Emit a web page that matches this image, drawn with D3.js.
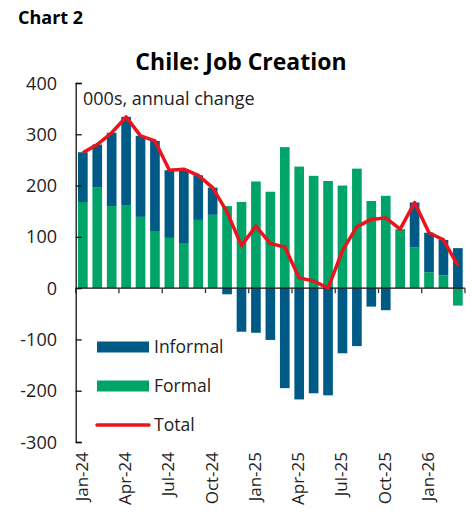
<!DOCTYPE html>
<html>
<head>
<meta charset="utf-8">
<script src="https://cdn.jsdelivr.net/npm/d3@7"></script>
<style>
  body { margin: 0; background: #fff; }
  svg { font-family: "Open Sans", "Noto Sans", sans-serif; }
</style>
</head>
<body>
<svg width="473" height="521"></svg>
<script>
// months, Jan-24 .. Mar-26
let months = ["Jan-24","Feb-24","Mar-24","Apr-24","May-24","Jun-24","Jul-24","Aug-24","Sep-24","Oct-24","Nov-24","Dec-24",
              "Jan-25","Feb-25","Mar-25","Apr-25","May-25","Jun-25","Jul-25","Aug-25","Sep-25","Oct-25","Nov-25","Dec-25",
              "Jan-26","Feb-26","Mar-26"]
let formal   = [168,197,160,162,139,110,98,88,133,143,160,168,208,188,275,237,219,209,200,233,170,180,115,80,31,25,-34]
let informal = [97,83,143,172,158,177,132,144,87,53,-12,-85,-87,-101,-195,-217,-205,-209,-127,-113,-36,-43,0,87,77,69,78]
let total    = [264,280,303,334,297,287,230,232,220,196,148,83,121,87,80,20,14,0,73,120,134,137,115,167,108,94,44]
let yTicks = [400,300,200,100,0,-100,-200,-300]
let xLabels = ["Jan-24","Apr-24","Jul-24","Oct-24","Jan-25","Apr-25","Jul-25","Oct-25","Jan-26"]

let colInformal = "#005a86"
let colFormal = "#00a468"
let colTotal = "#e8141e"

let svg = d3.select("svg")

let x = d3.scaleBand().domain(months).range([75.7, 465]).paddingInner(0.33).paddingOuter(0.16)
let y = d3.scaleLinear().domain([-300, 400]).range([442, 83])

// titles
svg.append("text").attr("x", 18).attr("y", 24)
   .attr("font-size", 18).attr("font-weight", "bold").text("Chart 2")
svg.append("text").attr("x", 241).attr("y", 70).attr("text-anchor", "middle")
   .attr("font-size", 23).attr("font-weight", "bold").text("Chile: Job Creation")
svg.append("text").attr("x", 83).attr("y", 105)
   .attr("font-size", 18).attr("fill", "#222").text("000s, annual change")

// stacked bars: positives stack up from 0, negatives down from 0
let rows = months.map((m, i) => ({m: m, f: formal[i], inf: informal[i]}))
let segs = []
rows.forEach(r => {
  let pos = 0, neg = 0
  ;[["f", colFormal], ["inf", colInformal]].forEach(([k, c]) => {
    let v = r[k]
    if (v >= 0) { segs.push({m: r.m, y0: pos, y1: pos + v, c: c}); pos += v }
    else { segs.push({m: r.m, y0: neg + v, y1: neg, c: c}); neg += v }
  })
})

svg.append("g").selectAll("rect").data(segs).join("rect")
   .attr("x", d => x(d.m))
   .attr("width", x.bandwidth())
   .attr("y", d => y(d.y1))
   .attr("height", d => y(d.y0) - y(d.y1))
   .attr("fill", d => d.c)

// y axis, ticks pointing inward
let yAxis = d3.axisRight(y).tickValues(yTicks).tickSize(6).tickFormat("")
let yg = svg.append("g").attr("transform", "translate(75.7,0)").call(yAxis)
yg.select(".domain").attr("stroke", "#111").attr("stroke-width", 1.3)
yg.selectAll(".tick line").attr("stroke", "#111").attr("stroke-width", 1.3)
svg.append("g").selectAll("text").data(yTicks).join("text")
   .attr("x", 57).attr("y", d => y(d) + 6.5).attr("text-anchor", "end")
   .attr("font-size", 18).attr("fill", "#222").text(d => d)

// x axis at zero, ticks on every 3rd category boundary
let x0 = 75.7
let bounds = d3.range(0, months.length + 1, 3)
let xg = svg.append("g")
xg.append("line").attr("x1", x0).attr("x2", 465).attr("y1", y(0)).attr("y2", y(0))
  .attr("stroke", "#111").attr("stroke-width", 1.3)
xg.selectAll("line.t").data(bounds).join("line").attr("class", "t")
  .attr("x1", d => x0 + d * (465 - x0) / months.length)
  .attr("x2", d => x0 + d * (465 - x0) / months.length)
  .attr("y1", y(0)).attr("y2", y(0) + 5)
  .attr("stroke", "#333").attr("stroke-width", 1.3)

svg.append("g").selectAll("text").data(xLabels).join("text")
   .attr("transform", d => `translate(${x(d) + x.bandwidth() / 2 + 5},452) rotate(-90)`)
   .attr("text-anchor", "end").attr("font-size", 17).attr("fill", "#222").text(d => d)

// total line
let line = d3.line().x((d, i) => x(months[i]) + x.bandwidth() / 2).y(d => y(d))
svg.append("path").datum(total).attr("d", line)
   .attr("fill", "none").attr("stroke", colTotal).attr("stroke-width", 3.5)
   .attr("stroke-linejoin", "round")

// legend
let legend = [["Informal", colInformal, "bar"], ["Formal", colFormal, "bar"], ["Total", colTotal, "line"]]
let lg = svg.append("g").selectAll("g").data(legend).join("g")
  .attr("transform", (d, i) => `translate(97,${347 + i * 39})`)
lg.filter(d => d[2] == "bar").append("rect")
  .attr("x", 0).attr("y", -5.5).attr("width", 52).attr("height", 11).attr("fill", d => d[1])
lg.filter(d => d[2] == "line").append("line")
  .attr("x1", 0).attr("x2", 52).attr("y1", 0).attr("y2", 0)
  .attr("stroke", d => d[1]).attr("stroke-width", 3.5).attr("stroke-linecap", "round")
lg.append("text").attr("x", 57).attr("y", 6).attr("font-size", 17.5).attr("fill", "#222").text(d => d[0])
</script>
</body>
</html>
